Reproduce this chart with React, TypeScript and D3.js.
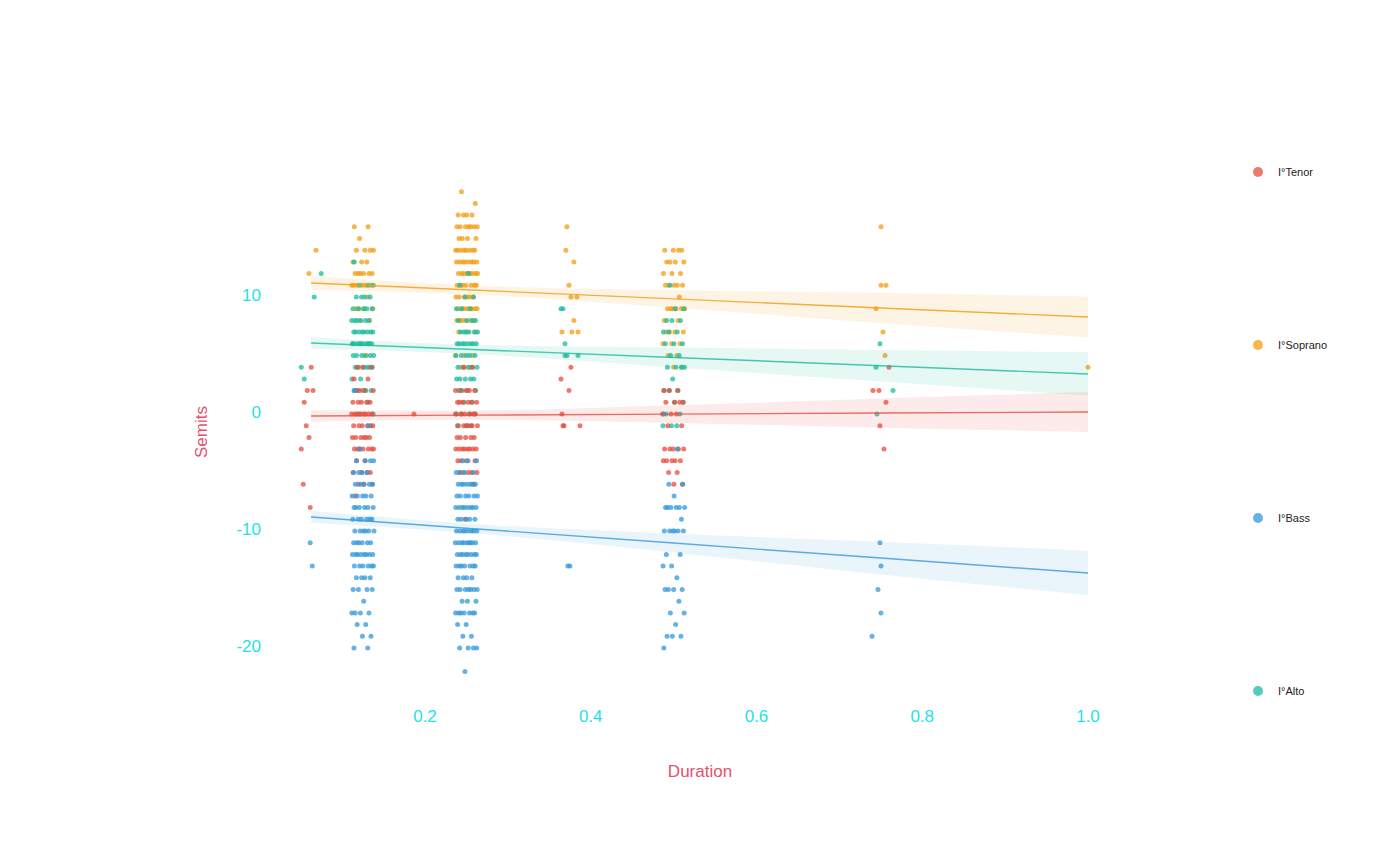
import React, { useEffect, useRef } from 'react';
import * as d3 from 'd3';

// voices, in legend order
const voices = ['I°Tenor', 'I°Soprano', 'I°Bass', 'I°Alto'];
const voiceColors = ['#e74c3c', '#f39c12', '#3498db', '#1abc9c'];

// dense columns: [duration, semits, number of notes]
const sopranoCounts: [number, number, number][] = [
  [0.125, 16, 2], [0.125, 15, 1], [0.125, 14, 4], [0.125, 13, 3], [0.125, 12, 6], [0.125, 11, 6],
  [0.125, 10, 1], [0.125, 9, 4], [0.125, 8, 2], [0.125, 6, 1], [0.125, 5, 1],
  [0.25, 19, 1], [0.25, 18, 1], [0.25, 17, 4], [0.25, 16, 7], [0.25, 15, 4], [0.25, 14, 8],
  [0.25, 13, 8], [0.25, 12, 9], [0.25, 11, 7], [0.25, 10, 6], [0.25, 9, 8], [0.25, 8, 6],
  [0.25, 7, 3], [0.25, 5, 3], [0.25, 4, 2],
  [0.5, 14, 4], [0.5, 13, 4], [0.5, 12, 3], [0.5, 11, 5], [0.5, 10, 1], [0.5, 9, 6],
  [0.5, 8, 2], [0.5, 7, 4], [0.5, 6, 3], [0.5, 5, 2], [0.5, 4, 2],
];
const altoCounts: [number, number, number][] = [
  [0.125, 13, 1], [0.125, 11, 3], [0.125, 10, 4], [0.125, 9, 5], [0.125, 8, 6], [0.125, 7, 8],
  [0.125, 6, 10], [0.125, 5, 6], [0.125, 4, 6], [0.125, 3, 2], [0.125, 2, 5], [0.125, 1, 1],
  [0.125, 0, 2],
  [0.25, 12, 1], [0.25, 11, 1], [0.25, 10, 2], [0.25, 9, 3], [0.25, 8, 4], [0.25, 7, 6],
  [0.25, 6, 8], [0.25, 5, 5], [0.25, 4, 5], [0.25, 3, 5], [0.25, 2, 4], [0.25, 1, 2],
  [0.25, 0, 4], [0.25, -1, 3],
  [0.5, 11, 1], [0.5, 9, 2], [0.5, 8, 3], [0.5, 7, 3], [0.5, 6, 3], [0.5, 5, 2],
  [0.5, 4, 4], [0.5, 3, 1], [0.5, 2, 3], [0.5, 1, 2], [0.5, 0, 2], [0.5, -1, 3],
];
const tenorCounts: [number, number, number][] = [
  [0.125, 4, 3], [0.125, 3, 2], [0.125, 2, 4], [0.125, 1, 5], [0.125, 0, 8], [0.125, -1, 6],
  [0.125, -2, 6], [0.125, -3, 7], [0.125, -4, 2], [0.125, -5, 4], [0.125, -6, 3], [0.125, -7, 1],
  [0.25, 4, 2], [0.25, 2, 5], [0.25, 1, 6], [0.25, 0, 6], [0.25, -1, 6], [0.25, -2, 5],
  [0.25, -3, 8], [0.25, -4, 4], [0.25, -5, 5], [0.25, -6, 1], [0.25, -9, 1],
  [0.5, 2, 3], [0.5, 1, 4], [0.5, 0, 3], [0.5, -1, 2], [0.5, -3, 5], [0.5, -4, 5],
  [0.5, -5, 2], [0.5, -6, 2],
];
const bassCounts: [number, number, number][] = [
  [0.125, 2, 1], [0.125, -1, 1], [0.125, -3, 1], [0.125, -4, 4], [0.125, -5, 4], [0.125, -6, 5],
  [0.125, -7, 5], [0.125, -8, 6], [0.125, -9, 6], [0.125, -10, 6], [0.125, -11, 6], [0.125, -12, 8],
  [0.125, -13, 6], [0.125, -14, 4], [0.125, -15, 4], [0.125, -16, 1], [0.125, -17, 4],
  [0.125, -18, 2], [0.125, -19, 2], [0.125, -20, 2],
  [0.25, -4, 3], [0.25, -5, 4], [0.25, -6, 7], [0.25, -7, 6], [0.25, -8, 8], [0.25, -9, 5],
  [0.25, -10, 8], [0.25, -11, 9], [0.25, -12, 8], [0.25, -13, 7], [0.25, -14, 4], [0.25, -15, 7],
  [0.25, -16, 3], [0.25, -17, 7], [0.25, -18, 2], [0.25, -19, 2], [0.25, -20, 4], [0.25, -22, 1],
  [0.5, 0, 1], [0.5, -3, 1], [0.5, -6, 2], [0.5, -7, 1], [0.5, -8, 6], [0.5, -9, 1],
  [0.5, -10, 6], [0.5, -12, 2], [0.5, -13, 2], [0.5, -14, 1], [0.5, -15, 4], [0.5, -16, 1],
  [0.5, -17, 2], [0.5, -18, 1], [0.5, -19, 3], [0.5, -20, 1],
];

// sparse notes, jittered duration as read: [duration, semits]
const sopranoLoose: [number, number][] = [
  [0.0685, 14], [0.06, 12],
  [0.3712, 16], [0.37, 14], [0.3797, 13], [0.3737, 11], [0.3761, 10], [0.3834, 10],
  [0.3797, 8], [0.3653, 7], [0.3773, 7], [0.3846, 7],
  [0.7502, 16], [0.7502, 11], [0.7562, 11], [0.7442, 9], [0.7526, 7], [0.755, 5],
  [1.0, 4],
];
const altoLoose: [number, number][] = [
  [0.0748, 12], [0.0663, 10], [0.0507, 4], [0.0543, 3],
  [0.3641, 9], [0.3665, 9], [0.3689, 6], [0.3689, 5], [0.3713, 5], [0.3846, 5],
  [0.749, 6], [0.7442, 4], [0.7647, 2], [0.7454, 0],
];
const tenorLoose: [number, number][] = [
  [0.0627, 4], [0.0579, 2], [0.0649, 2], [0.0543, 1], [0.0567, -1], [0.06, -2],
  [0.0507, -3], [0.0531, -6], [0.0615, -8],
  [0.1867, 0],
  [0.3761, 4], [0.3641, 3], [0.3737, 2], [0.3653, 0], [0.3665, -1], [0.3677, -1], [0.387, -1],
  [0.7598, 4], [0.7405, 2], [0.7478, 2], [0.7562, 1], [0.749, -1], [0.7538, -3],
];
const bassLoose: [number, number][] = [
  [0.0615, -11], [0.064, -13],
  [0.3724, -13], [0.3749, -13],
  [0.749, -11], [0.7502, -13], [0.7466, -15], [0.7502, -17], [0.7394, -19],
];

// linear fits with confidence band, sampled at fitX
const fitX = [0.0625, 0.25, 0.5, 0.75, 1.0];
const sopranoUpper = [11.8, 11.02, 10.59, 10.36, 10.04];
const sopranoFit = [11.2, 10.62, 9.84, 9.06, 8.29];
const sopranoLower = [10.6, 10.22, 9.09, 7.76, 6.54];
const altoUpper = [6.57, 5.94, 5.68, 5.48, 5.27];
const altoFit = [6.07, 5.54, 4.83, 4.13, 3.42];
const altoLower = [5.57, 5.14, 3.98, 2.78, 1.57];
const tenorUpper = [0.33, 0.3, 0.74, 1.33, 1.87];
const tenorFit = [-0.17, -0.1, -0.01, 0.08, 0.17];
const tenorLower = [-0.67, -0.5, -0.76, -1.17, -1.53];
const bassUpper = [-8.3, -9.36, -10.23, -10.91, -11.69];
const bassFit = [-8.8, -9.76, -11.03, -12.31, -13.59];
const bassLower = [-9.3, -10.16, -11.83, -13.71, -15.49];

const xTicks = [0.2, 0.4, 0.6, 0.8, 1.0];
const yTicks = [10, 0, -10, -20];

const FONT = '"Liberation Sans", Arial, Helvetica, sans-serif';
const TICK_COLOR = '#27e0e8';
const TITLE_COLOR = '#e4516a';

export default function App() {
  const svgRef = useRef<SVGSVGElement>(null);

  useEffect(() => {
    const svg = d3.select(svgRef.current);
    svg.selectAll('*').remove();

    const x = d3.scaleLinear().domain([0, 1]).range([259.25, 1088]);
    const y = d3.scaleLinear().domain([-20, 10]).range([648, 297]);

    const layers = [
      { color: voiceColors[1], counts: sopranoCounts, loose: sopranoLoose, up: sopranoUpper, fit: sopranoFit, lo: sopranoLower },
      { color: voiceColors[3], counts: altoCounts, loose: altoLoose, up: altoUpper, fit: altoFit, lo: altoLower },
      { color: voiceColors[0], counts: tenorCounts, loose: tenorLoose, up: tenorUpper, fit: tenorFit, lo: tenorLower },
      { color: voiceColors[2], counts: bassCounts, loose: bassLoose, up: bassUpper, fit: bassFit, lo: bassLower },
    ];

    // horizontal jitter layout (golden-ratio sequence, deterministic)
    const jitterWidth = 0.0135;
    let k = 0;
    const nextJitter = () => {
      k += 1;
      const u = (0.5 + k * 0.6180339887) % 1;
      return (u * 2 - 1) * jitterWidth;
    };

    const g = svg.append('g');

    // points
    layers.forEach(layer => {
      const pts: [number, number][] = [];
      layer.counts.forEach(([d, s, n]) => {
        for (let i = 0; i < n; i++) pts.push([d + nextJitter(), s]);
      });
      layer.loose.forEach(p => pts.push(p));
      g.append('g')
        .selectAll('circle')
        .data(pts)
        .enter().append('circle')
        .attr('cx', d => x(d[0]))
        .attr('cy', d => y(d[1]))
        .attr('r', 2.5)
        .attr('fill', layer.color)
        .attr('fill-opacity', 0.75);
    });

    // confidence bands and fit lines
    layers.forEach(layer => {
      const rows = fitX.map((fx, i) => ({ fx, up: layer.up[i], fit: layer.fit[i], lo: layer.lo[i] }));
      const area = d3.area<any>()
        .x(d => x(d.fx))
        .y0(d => y(d.lo))
        .y1(d => y(d.up))
        .curve(d3.curveMonotoneX);
      g.append('path')
        .datum(rows)
        .attr('fill', layer.color)
        .attr('fill-opacity', 0.11)
        .attr('d', area);
      const line = d3.line<any>()
        .x(d => x(d.fx))
        .y(d => y(d.fit));
      g.append('path')
        .datum(rows)
        .attr('fill', 'none')
        .attr('stroke', layer.color)
        .attr('stroke-opacity', 0.8)
        .attr('stroke-width', 1.4)
        .attr('d', line);
    });

    // x tick labels
    svg.append('g')
      .selectAll('text')
      .data(xTicks)
      .enter().append('text')
      .attr('x', d => x(d))
      .attr('y', 722)
      .attr('text-anchor', 'middle')
      .style('font-family', FONT)
      .style('font-size', '17px')
      .style('fill', TICK_COLOR)
      .text(d => d3.format('.1f')(d));

    // y tick labels
    svg.append('g')
      .selectAll('text')
      .data(yTicks)
      .enter().append('text')
      .attr('x', 261)
      .attr('y', d => y(d) + 4)
      .attr('text-anchor', 'end')
      .style('font-family', FONT)
      .style('font-size', '17px')
      .style('fill', TICK_COLOR)
      .text(d => String(d));

    // axis titles
    svg.append('text')
      .attr('x', 700)
      .attr('y', 777)
      .attr('text-anchor', 'middle')
      .style('font-family', FONT)
      .style('font-size', '17px')
      .style('fill', TITLE_COLOR)
      .text('Duration');

    svg.append('text')
      .attr('transform', 'translate(207,432) rotate(-90)')
      .attr('text-anchor', 'middle')
      .style('font-family', FONT)
      .style('font-size', '17px')
      .style('fill', TITLE_COLOR)
      .text('Semits');

    // legend
    const legend = svg.append('g')
      .selectAll('g')
      .data(voices)
      .enter().append('g')
      .attr('transform', (_, i) => `translate(1258,${172 + i * 173})`);
    legend.append('circle')
      .attr('r', 5)
      .attr('fill', (_, i) => voiceColors[i])
      .attr('fill-opacity', 0.75);
    legend.append('text')
      .attr('x', 20)
      .attr('y', 4)
      .style('font-family', FONT)
      .style('font-size', '11px')
      .style('fill', '#222')
      .text(d => d);
  }, []);

  return (
    <svg
      ref={svgRef}
      width={1400}
      height={865}
      style={{ position: 'absolute', left: 0, top: 0, background: '#fff' }}
    />
  );
}
